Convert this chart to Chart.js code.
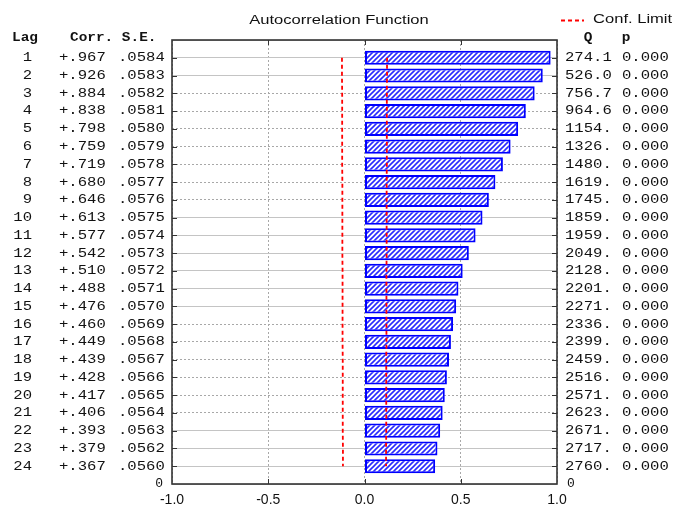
<!DOCTYPE html>
<html>
<head>
<meta charset="utf-8">
<script src="https://cdn.jsdelivr.net/npm/chart.js@4.4.1/dist/chart.umd.min.js"></script>
<style>
  body { margin: 0; background: #fff; }
</style>
</head>
<body>
<canvas id="acf" width="676" height="508"></canvas>
<script>
// Autocorrelation table, as printed beside the plot
const lags = [1, 2, 3, 4, 5, 6, 7, 8, 9, 10, 11, 12, 13, 14, 15, 16, 17, 18, 19, 20, 21, 22, 23, 24];
const corr = [0.967, 0.926, 0.884, 0.838, 0.798, 0.759, 0.719, 0.680, 0.646, 0.613, 0.577, 0.542,
              0.510, 0.488, 0.476, 0.460, 0.449, 0.439, 0.428, 0.417, 0.406, 0.393, 0.379, 0.367];
const stdErr = [0.0584, 0.0583, 0.0582, 0.0581, 0.0580, 0.0579, 0.0578, 0.0577, 0.0576, 0.0575, 0.0574, 0.0573,
                0.0572, 0.0571, 0.0570, 0.0569, 0.0568, 0.0567, 0.0566, 0.0565, 0.0564, 0.0563, 0.0562, 0.0560];
const qStat = [274.1, 526.0, 756.7, 964.6, 1154, 1326, 1480, 1619, 1745, 1859, 1959, 2049,
               2128, 2201, 2271, 2336, 2399, 2459, 2516, 2571, 2623, 2671, 2717, 2760];
const pValues = [0, 0, 0, 0, 0, 0, 0, 0, 0, 0, 0, 0,
                 0, 0, 0, 0, 0, 0, 0, 0, 0, 0, 0, 0];
// confidence limit (about 2 x S.E.)
const confLimit = [0.117, 0.117, 0.116, 0.116, 0.116, 0.116, 0.116, 0.115, 0.115, 0.115, 0.115, 0.115,
                   0.114, 0.114, 0.114, 0.114, 0.114, 0.113, 0.113, 0.113, 0.113, 0.113, 0.112, 0.112];
const xTicks = [-1, -0.5, 0, 0.5, 1];

const canvas = document.getElementById('acf');

// diagonal hatch fill for the bars
function makeHatch() {
    const tile = document.createElement('canvas');
    tile.width = 5; tile.height = 5;
    const g = tile.getContext('2d');
    g.fillStyle = '#ffffff';
    g.fillRect(0, 0, 5, 5);
    g.strokeStyle = '#2a2aff';
    g.lineWidth = 1.6;
    g.beginPath();
    g.moveTo(0, 5); g.lineTo(5, 0);
    g.moveTo(-1, 1); g.lineTo(1, -1);
    g.moveTo(4, 6); g.lineTo(6, 4);
    g.stroke();
    return canvas.getContext('2d').createPattern(tile, 'repeat');
}

// text drawn a bit wider than the font, like the original screen font
function wideText(ctx, s, x, y, align, sx) {
    ctx.save();
    ctx.translate(x, y);
    ctx.scale(sx, 1);
    ctx.textAlign = align;
    ctx.fillText(s, 0, 0);
    ctx.restore();
}

const fmtCorr = v => (v < 0 ? '-' : '+') + Math.abs(v).toFixed(3).slice(1);
const fmtSE = v => v.toFixed(4).slice(1);
const fmtQ = v => v < 1000 ? v.toFixed(1) : Math.round(v) + '.';

const dotted = v => (v >= 3 && v <= 9) || (v >= 16 && v <= 21);

const tablePlugin = {
    id: 'acfTable',
    afterDraw(chart) {
        const { ctx, chartArea: a, scales } = chart;
        const y = scales.y, x = scales.x;
        ctx.save();

        // frame
        ctx.strokeStyle = '#333';
        ctx.lineWidth = 1.6;
        ctx.strokeRect(a.left, a.top, a.right - a.left, a.bottom - a.top);

        // inward tick marks
        ctx.lineWidth = 1;
        ctx.beginPath();
        xTicks.slice(1, -1).forEach(v => {
            const px = Math.round(x.getPixelForValue(v)) + 0.5;
            ctx.moveTo(px, a.bottom); ctx.lineTo(px, a.bottom - 5);
            ctx.moveTo(px, a.top); ctx.lineTo(px, a.top + 5);
        });
        lags.forEach(l => {
            const py = Math.round(y.getPixelForValue(l)) + 0.5;
            ctx.moveTo(a.left, py); ctx.lineTo(a.left + 5, py);
            ctx.moveTo(a.right, py); ctx.lineTo(a.right - 5, py);
        });
        ctx.stroke();

        // title and legend
        ctx.fillStyle = '#111';
        ctx.textBaseline = 'middle';
        ctx.font = '12px "Liberation Sans", Arial, sans-serif';
        wideText(ctx, 'Autocorrelation Function', 339, 21, 'center', 1.38);
        wideText(ctx, 'Conf. Limit', 593, 20, 'left', 1.38);
        ctx.strokeStyle = '#ff0000';
        ctx.lineWidth = 1.8;
        ctx.setLineDash([4, 3]);
        ctx.beginPath();
        ctx.moveTo(561, 20.5); ctx.lineTo(584, 20.5);
        ctx.stroke();
        ctx.setLineDash([]);

        // left and right tables
        const mono = '"Liberation Mono", "DejaVu Sans Mono", monospace';
        const sx = 1.2;
        ctx.font = 'bold 12px ' + mono;
        wideText(ctx, 'Lag', 12, 38, 'left', sx);
        wideText(ctx, 'Corr. S.E.', 70, 38, 'left', sx);
        wideText(ctx, 'Q', 588, 38, 'center', sx);
        wideText(ctx, 'p', 626, 38, 'center', sx);

        ctx.font = '13px ' + mono;
        lags.forEach((l, i) => {
            const py = y.getPixelForValue(l);
            wideText(ctx, String(l), 32, py, 'right', sx);
            wideText(ctx, fmtCorr(corr[i]), 59, py, 'left', sx);
            wideText(ctx, fmtSE(stdErr[i]), 118, py, 'left', sx);
            wideText(ctx, fmtQ(qStat[i]), 565, py, 'left', sx);
            wideText(ctx, pValues[i].toFixed(3), 622, py, 'left', sx);
        });
        ctx.restore();
    }
};

const rowTicks = [0].concat(lags, [25]);

new Chart(canvas, {
    type: 'bar',
    data: {
        datasets: [{
            label: 'Corr.',
            data: lags.map((l, i) => ({ x: corr[i], y: l })),
            backgroundColor: makeHatch(),
            borderColor: '#0000ff',
            borderWidth: 2,
            borderSkipped: false,
            barPercentage: 0.8,
            categoryPercentage: 1.0,
            xAxisID: 'x',
            yAxisID: 'y',
            order: 2
        }, {
            type: 'line',
            label: 'Conf. Limit',
            indexAxis: 'y',
            data: lags.map((l, i) => ({ x: confLimit[i], y: l })),
            borderColor: '#ff0000',
            borderWidth: 1.8,
            borderDash: [4, 3],
            pointRadius: 0,
            fill: false,
            xAxisID: 'x',
            yAxisID: 'y',
            order: 1
        }, {
            type: 'line',
            label: 'Conf. Limit (lower)',
            indexAxis: 'y',
            data: lags.map((l, i) => ({ x: -confLimit[i], y: l })),
            borderColor: '#ff0000',
            borderWidth: 1.8,
            borderDash: [4, 3],
            pointRadius: 0,
            fill: false,
            xAxisID: 'x',
            yAxisID: 'y',
            order: 1
        }]
    },
    options: {
        indexAxis: 'y',
        responsive: false,
        animation: false,
        layout: { padding: { top: 40, left: 0, right: 0, bottom: 0 } },
        plugins: {
            legend: { display: false },
            title: { display: false },
            tooltip: { enabled: false }
        },
        scales: {
            x: {
                type: 'linear',
                position: 'bottom',
                min: -1,
                max: 1,
                offset: false,
                afterBuildTicks: s => { s.ticks = xTicks.map(v => ({ value: v })); },
                afterFit: s => { s.height = 24; },
                ticks: {
                    padding: 8,
                    color: '#111',
                    font: { family: '"Liberation Sans", Arial, sans-serif', size: 14 },
                    callback: v => Number(v).toFixed(1)
                },
                grid: { drawTicks: false, offset: false, color: '#a8a8a8', lineWidth: 1 },
                border: { display: false, dash: [2, 2] }
            },
            y: {
                type: 'linear',
                position: 'left',
                min: 0,
                max: 25,
                reverse: true,
                offset: false,
                afterBuildTicks: s => { s.ticks = rowTicks.map(v => ({ value: v })); },
                afterFit: s => { s.width = 172; },
                ticks: {
                    autoSkip: false,
                    padding: 9,
                    color: '#111',
                    font: { family: '"Liberation Mono", monospace', size: 13 },
                    callback: v => v === 25 ? '0' : ''
                },
                grid: {
                    drawTicks: false,
                    offset: false,
                    lineWidth: 1,
                    color: c => c.tick && dotted(c.tick.value) ? '#a8a8a8' : '#c4c4c4'
                },
                border: {
                    display: false,
                    dash: c => c.tick && dotted(c.tick.value) ? [2, 2] : []
                }
            },
            y2: {
                type: 'linear',
                position: 'right',
                min: 0,
                max: 25,
                reverse: true,
                offset: false,
                afterBuildTicks: s => { s.ticks = rowTicks.map(v => ({ value: v })); },
                afterFit: s => { s.width = 119; },
                ticks: {
                    autoSkip: false,
                    padding: 10,
                    color: '#111',
                    font: { family: '"Liberation Mono", monospace', size: 13 },
                    callback: v => v === 25 ? '0' : ''
                },
                grid: { drawOnChartArea: false, drawTicks: false, offset: false },
                border: { display: false }
            }
        }
    },
    plugins: [tablePlugin]
});
</script>
</body>
</html>
